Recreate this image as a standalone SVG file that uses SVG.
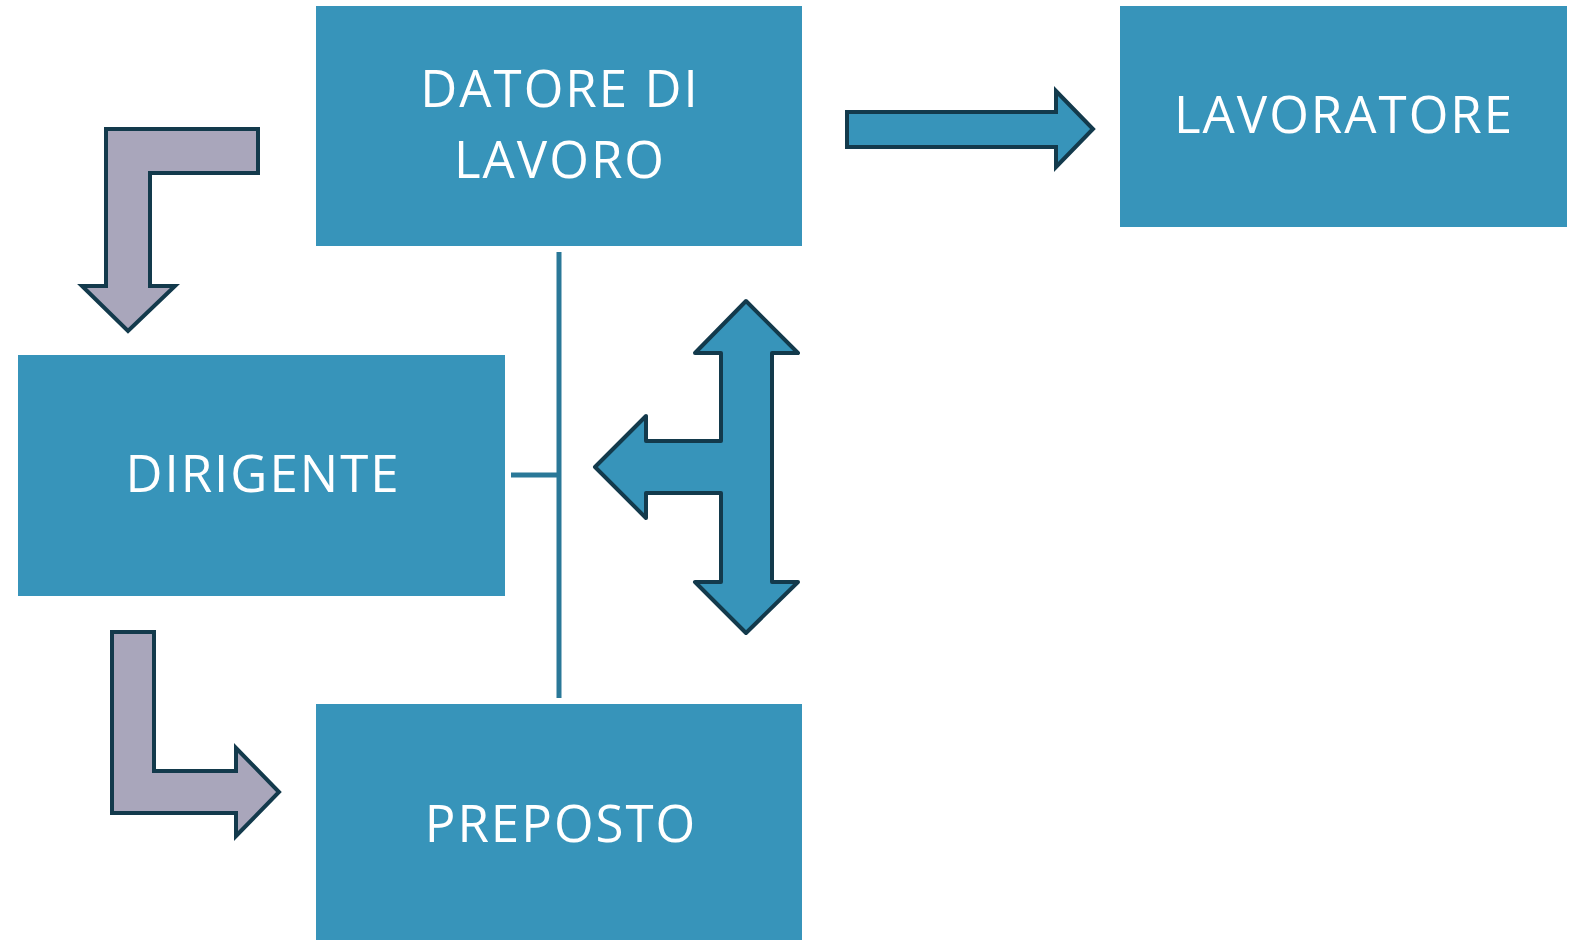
<svg xmlns="http://www.w3.org/2000/svg" width="1571" height="940" viewBox="0 0 1571 940">
<style>
.box{fill:#3794BA}
.t{fill:#ffffff;font-family:"Open Sans","DejaVu Sans",sans-serif;font-size:51px;text-anchor:middle;letter-spacing:2px}
.grey{fill:#A9A6BB;stroke:#133A4C;stroke-width:4;stroke-linejoin:miter}
.blue{fill:#3794BA;stroke:#133A4C;stroke-width:4;stroke-linejoin:round}
.ln{stroke:#2A7898;stroke-width:5;fill:none}
</style>
<rect width="1571" height="940" fill="#ffffff"/>
<g id="datore">
<rect class="box" x="316" y="6" width="486" height="240"/>
<text class="t" x="560" y="107">DATORE DI</text>
<text class="t" x="560" y="178">LAVORO</text>
</g>
<g id="lavoratore">
<rect class="box" x="1120" y="6" width="447" height="221"/>
<text class="t" x="1344" y="133">LAVORATORE</text>
</g>
<g id="dirigente">
<rect class="box" x="18" y="355" width="487" height="241"/>
<text class="t" x="263" y="492">DIRIGENTE</text>
</g>
<g id="preposto">
<rect class="box" x="316" y="704" width="486" height="236"/>
<text class="t" x="561" y="842">PREPOSTO</text>
</g>
<g id="connectors">
<path class="ln" d="M559,252 L559,698 M511,475 L559,475"/>
<path class="grey" d="M106,129 L258,129 L258,173 L150,173 L150,286 L175,286 L128,331 L82,286 L106,286 Z"/>
<path class="grey" d="M112,632 L154,632 L154,771 L236,771 L236,748 L279,792 L236,836 L236,813 L112,813 Z"/>
<path class="blue" style="stroke-linejoin:miter" d="M847,112 L1056,112 L1056,91 L1093,129 L1056,167 L1056,147 L847,147 Z"/>
<path class="blue" d="M746,301 L798,353 L772,353 L772,582 L798,582 L746,633 L695,582 L721,582 L721,493 L646,493 L646,518 L595,467 L646,416 L646,441 L721,441 L721,353 L695,353 Z"/>
</g>
</svg>
